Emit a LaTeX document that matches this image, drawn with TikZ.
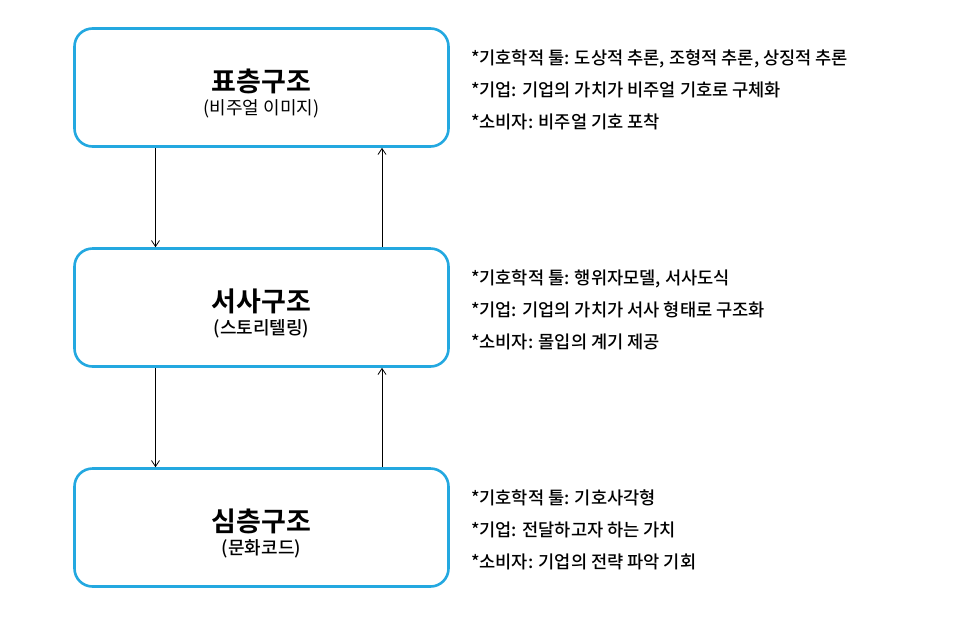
\documentclass[tikz,border=0pt]{standalone}
\usepackage{fontspec}
\setmainfont{Noto Sans CJK KR}[BoldFont=Noto Sans CJK KR Bold]
\newfontfamily\medfont{Noto Sans CJK KR Medium}
\usepackage{tikz}
\usetikzlibrary{positioning,arrows.meta}
\definecolor{skyblue}{RGB}{35,168,224}
\newcommand{\layertitle}[1]{\rule{0pt}{34pt}{\fontsize{27}{23}\selectfont\bfseries #1}}

\begin{document}
\begin{tikzpicture}[x=1pt, y=-1pt, >={Straight Barb[length=6pt,width=8pt]},
    layer/.style={draw=skyblue, line width=2.6pt, rounded corners=18pt, fill=white,
      minimum width=374pt, minimum height=118pt, align=center, font=\fontsize{18}{23}\selectfont},
    notes/.style={align=left, anchor=west, inner sep=0pt, font=\medfont\fontsize{17.6}{32}\selectfont},
    link/.style={->, line width=0.8pt}]
    \useasboundingbox (0,0) rectangle (960,619);

    % Three layers of meaning
    \node[layer] (surface) at (261.5,87.5) {\layertitle{표층구조}\\(비주얼 이미지)};
    \node[layer] (story) at (261.5,307.5) {\layertitle{서사구조}\\{\medfont (스토리텔링)}};
    \node[layer] (deep) at (261.5,527.5) {\layertitle{심층구조}\\{\medfont (문화코드)}};

    % Links between layers
    \draw[link] ([xshift=-106pt]surface.south) -- ([xshift=-106pt]story.north);
    \draw[link] ([xshift=120.5pt]story.north) -- ([xshift=120.5pt]surface.south);
    \draw[link] ([xshift=-106pt]story.south) -- ([xshift=-106pt]deep.north);
    \draw[link] ([xshift=120.5pt]deep.north) -- ([xshift=120.5pt]story.south);

    % Notes
    \node[notes, right=21pt of surface, yshift=-2.5pt] (surfacenotes) {*기호학적 툴: 도상적 추론, 조형적 추론, 상징적 추론\\*기업: 기업의 가치가 비주얼 기호로 구체화\\*소비자: 비주얼 기호 포착};
    \node[notes, right=21pt of story, yshift=-2.5pt] (storynotes) {*기호학적 툴: 행위자모델, 서사도식\\*기업: 기업의 가치가 서사 형태로 구조화\\*소비자: 몰입의 계기 제공};
    \node[notes, right=21pt of deep, yshift=-2.5pt] (deepnotes) {*기호학적 툴: 기호사각형\\*기업: 전달하고자 하는 가치\\*소비자: 기업의 전략 파악 기회};
\end{tikzpicture}
\end{document}
